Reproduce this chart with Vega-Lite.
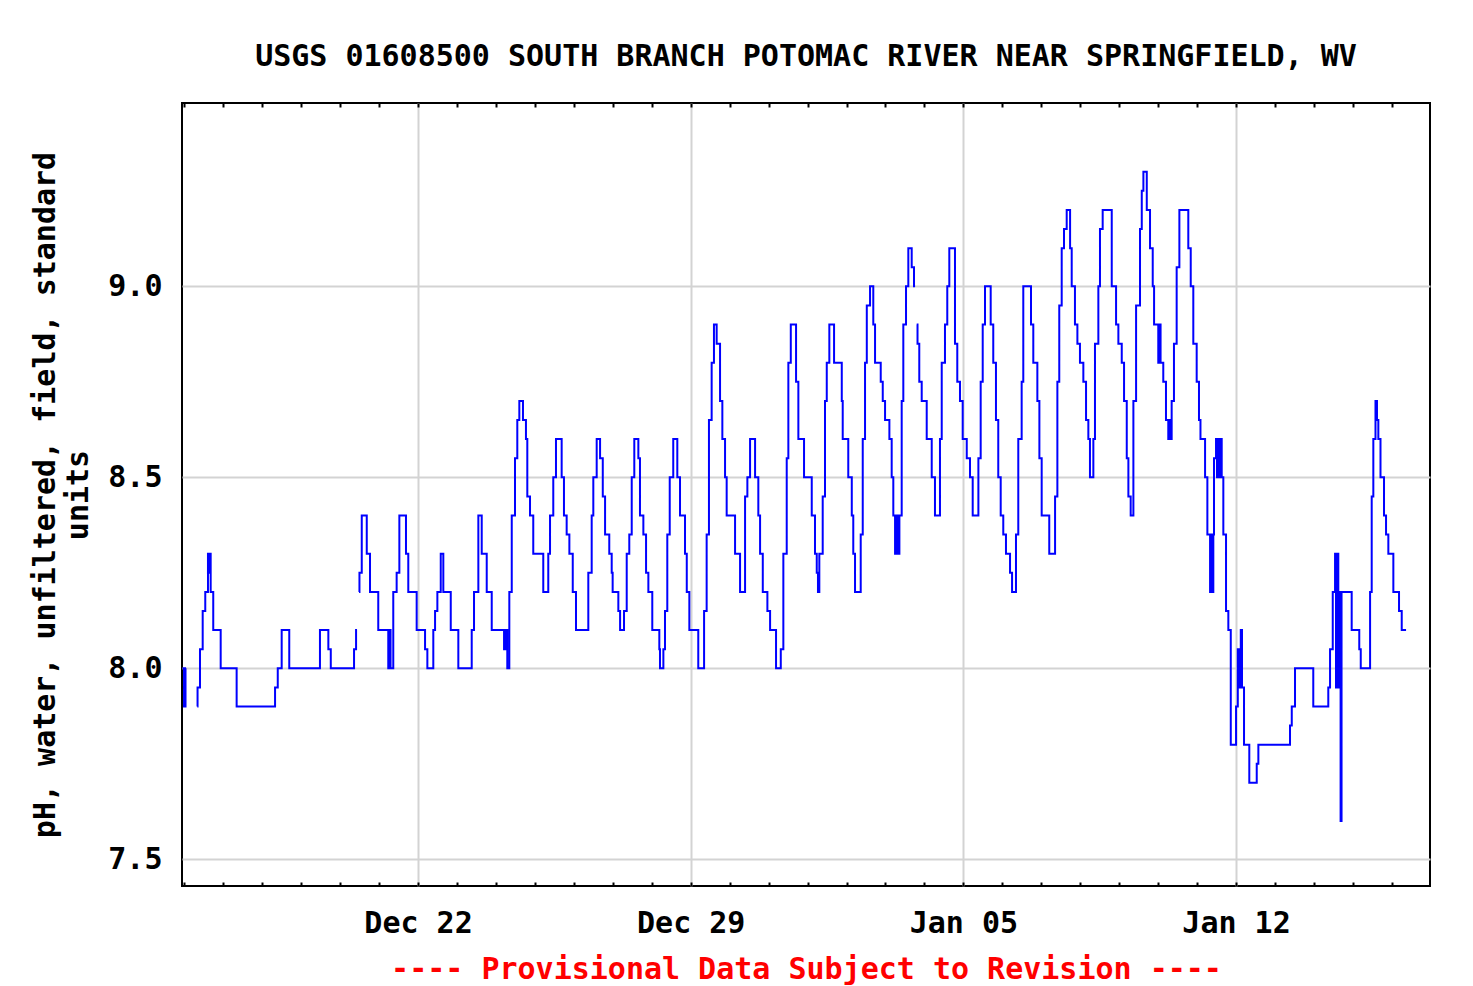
{
  "$schema": "https://vega.github.io/schema/vega-lite/v6.json",
  "width": 1248,
  "height": 783,
  "autosize": {"type": "none"},
  "padding": {"left": 182, "top": 103, "right": 43, "bottom": 100},
  "background": "white",
  "title": {
    "text": "USGS 01608500 SOUTH BRANCH POTOMAC RIVER NEAR SPRINGFIELD, WV",
    "font": "DejaVu Sans Mono", "fontSize": 30, "fontWeight": "bold", "color": "black",
    "anchor": "middle", "frame": "group", "baseline": "alphabetic", "offset": 6
  },
  "config": {
    "view": {"stroke": "black", "strokeWidth": 2},
    "axis": {
      "labelFont": "DejaVu Sans Mono", "labelFontSize": 30, "labelFontWeight": "bold", "labelColor": "black",
      "titleFont": "DejaVu Sans Mono", "titleFontSize": 30, "titleFontWeight": "bold", "titleColor": "black",
      "gridColor": "#d3d3d3", "gridWidth": 2, "gridOpacity": 1, "domain": false, "ticks": false
    }
  },
  "data": {"values": [
    {"t": "2013-12-15T22:55", "v": 8.0}, {"t": "2013-12-15T23:50", "v": 7.9}, {"t": "2013-12-16T00:45", "v": 8.0}, {"t": "2013-12-16T01:05", "v": 8.0}, {"t": "2013-12-16T03:00", "v": null},
    {"t": "2013-12-16T08:00", "v": 7.9}, {"t": "2013-12-16T08:10", "v": 7.95}, {"t": "2013-12-16T09:40", "v": 8.05}, {"t": "2013-12-16T11:20", "v": 8.15}, {"t": "2013-12-16T12:55", "v": 8.2}, {"t": "2013-12-16T14:35", "v": 8.3}, {"t": "2013-12-16T15:15", "v": 8.25}, {"t": "2013-12-16T15:30", "v": 8.3}, {"t": "2013-12-16T16:15", "v": 8.2}, {"t": "2013-12-16T17:50", "v": 8.1}, {"t": "2013-12-16T22:25", "v": 8.0},
    {"t": "2013-12-17T08:15", "v": 7.9}, {"t": "2013-12-18T07:55", "v": 7.95}, {"t": "2013-12-18T09:35", "v": 8.0}, {"t": "2013-12-18T12:00", "v": 8.1}, {"t": "2013-12-18T16:40", "v": 8.0},
    {"t": "2013-12-19T11:35", "v": 8.1}, {"t": "2013-12-19T16:45", "v": 8.05}, {"t": "2013-12-19T18:15", "v": 8.0}, {"t": "2013-12-20T08:35", "v": 8.05}, {"t": "2013-12-20T09:50", "v": 8.1}, {"t": "2013-12-20T10:25", "v": 8.1}, {"t": "2013-12-20T11:00", "v": null},
    {"t": "2013-12-20T11:40", "v": 8.2}, {"t": "2013-12-20T11:55", "v": 8.25}, {"t": "2013-12-20T13:20", "v": 8.4}, {"t": "2013-12-20T16:25", "v": 8.3}, {"t": "2013-12-20T18:25", "v": 8.2}, {"t": "2013-12-20T23:30", "v": 8.1},
    {"t": "2013-12-21T05:40", "v": 8.0}, {"t": "2013-12-21T06:25", "v": 8.1}, {"t": "2013-12-21T07:05", "v": 8.0}, {"t": "2013-12-21T08:45", "v": 8.2}, {"t": "2013-12-21T10:50", "v": 8.25}, {"t": "2013-12-21T12:30", "v": 8.4}, {"t": "2013-12-21T16:35", "v": 8.3}, {"t": "2013-12-21T18:00", "v": 8.2}, {"t": "2013-12-21T23:10", "v": 8.1},
    {"t": "2013-12-22T04:20", "v": 8.05}, {"t": "2013-12-22T05:45", "v": 8.0}, {"t": "2013-12-22T09:25", "v": 8.1}, {"t": "2013-12-22T10:30", "v": 8.15}, {"t": "2013-12-22T11:55", "v": 8.2}, {"t": "2013-12-22T14:00", "v": 8.3}, {"t": "2013-12-22T15:35", "v": 8.2}, {"t": "2013-12-22T20:10", "v": 8.1},
    {"t": "2013-12-23T00:50", "v": 8.0}, {"t": "2013-12-23T09:05", "v": 8.1}, {"t": "2013-12-23T10:30", "v": 8.2}, {"t": "2013-12-23T13:10", "v": 8.4}, {"t": "2013-12-23T15:15", "v": 8.3}, {"t": "2013-12-23T18:20", "v": 8.2}, {"t": "2013-12-23T21:25", "v": 8.1},
    {"t": "2013-12-24T05:00", "v": 8.05}, {"t": "2013-12-24T05:55", "v": 8.1}, {"t": "2013-12-24T07:00", "v": 8.0}, {"t": "2013-12-24T08:15", "v": 8.2}, {"t": "2013-12-24T09:45", "v": 8.4}, {"t": "2013-12-24T11:45", "v": 8.55}, {"t": "2013-12-24T13:10", "v": 8.65}, {"t": "2013-12-24T14:25", "v": 8.7}, {"t": "2013-12-24T16:40", "v": 8.65}, {"t": "2013-12-24T18:30", "v": 8.6}, {"t": "2013-12-24T19:20", "v": 8.45}, {"t": "2013-12-24T21:00", "v": 8.4}, {"t": "2013-12-24T23:00", "v": 8.3},
    {"t": "2013-12-25T05:10", "v": 8.2}, {"t": "2013-12-25T08:15", "v": 8.3}, {"t": "2013-12-25T09:20", "v": 8.4}, {"t": "2013-12-25T11:20", "v": 8.5}, {"t": "2013-12-25T13:00", "v": 8.6}, {"t": "2013-12-25T16:30", "v": 8.5}, {"t": "2013-12-25T17:55", "v": 8.4}, {"t": "2013-12-25T19:35", "v": 8.35}, {"t": "2013-12-25T21:15", "v": 8.3}, {"t": "2013-12-25T23:20", "v": 8.2},
    {"t": "2013-12-26T01:20", "v": 8.1}, {"t": "2013-12-26T08:55", "v": 8.25}, {"t": "2013-12-26T11:00", "v": 8.4}, {"t": "2013-12-26T12:00", "v": 8.5}, {"t": "2013-12-26T14:05", "v": 8.6}, {"t": "2013-12-26T16:10", "v": 8.55}, {"t": "2013-12-26T17:50", "v": 8.45}, {"t": "2013-12-26T19:15", "v": 8.35}, {"t": "2013-12-26T21:50", "v": 8.3}, {"t": "2013-12-26T23:20", "v": 8.25}, {"t": "2013-12-26T23:55", "v": 8.2},
    {"t": "2013-12-27T03:25", "v": 8.15}, {"t": "2013-12-27T04:30", "v": 8.1}, {"t": "2013-12-27T06:55", "v": 8.15}, {"t": "2013-12-27T08:35", "v": 8.3}, {"t": "2013-12-27T10:10", "v": 8.35}, {"t": "2013-12-27T11:40", "v": 8.5}, {"t": "2013-12-27T13:15", "v": 8.6}, {"t": "2013-12-27T15:45", "v": 8.55}, {"t": "2013-12-27T16:45", "v": 8.4}, {"t": "2013-12-27T18:50", "v": 8.35}, {"t": "2013-12-27T20:30", "v": 8.25}, {"t": "2013-12-27T21:55", "v": 8.2},
    {"t": "2013-12-28T00:20", "v": 8.1}, {"t": "2013-12-28T04:40", "v": 8.05}, {"t": "2013-12-28T05:05", "v": 8.0}, {"t": "2013-12-28T07:10", "v": 8.05}, {"t": "2013-12-28T08:10", "v": 8.15}, {"t": "2013-12-28T09:35", "v": 8.35}, {"t": "2013-12-28T11:05", "v": 8.5}, {"t": "2013-12-28T13:15", "v": 8.6}, {"t": "2013-12-28T15:45", "v": 8.5}, {"t": "2013-12-28T17:25", "v": 8.4}, {"t": "2013-12-28T20:30", "v": 8.3}, {"t": "2013-12-28T21:35", "v": 8.2}, {"t": "2013-12-28T23:10", "v": 8.1},
    {"t": "2013-12-29T04:40", "v": 8.0}, {"t": "2013-12-29T08:15", "v": 8.15}, {"t": "2013-12-29T09:50", "v": 8.35}, {"t": "2013-12-29T11:15", "v": 8.65}, {"t": "2013-12-29T12:55", "v": 8.8}, {"t": "2013-12-29T14:20", "v": 8.9}, {"t": "2013-12-29T16:00", "v": 8.85}, {"t": "2013-12-29T18:05", "v": 8.7}, {"t": "2013-12-29T19:30", "v": 8.6}, {"t": "2013-12-29T21:10", "v": 8.5}, {"t": "2013-12-29T22:10", "v": 8.4},
    {"t": "2013-12-30T03:20", "v": 8.3}, {"t": "2013-12-30T06:25", "v": 8.2}, {"t": "2013-12-30T09:30", "v": 8.45}, {"t": "2013-12-30T10:55", "v": 8.5}, {"t": "2013-12-30T12:35", "v": 8.6}, {"t": "2013-12-30T15:40", "v": 8.5}, {"t": "2013-12-30T17:40", "v": 8.4}, {"t": "2013-12-30T18:45", "v": 8.3}, {"t": "2013-12-30T20:25", "v": 8.2}, {"t": "2013-12-30T23:15", "v": 8.15},
    {"t": "2013-12-31T00:55", "v": 8.1}, {"t": "2013-12-31T04:35", "v": 8.0}, {"t": "2013-12-31T07:30", "v": 8.05}, {"t": "2013-12-31T09:05", "v": 8.3}, {"t": "2013-12-31T11:10", "v": 8.55}, {"t": "2013-12-31T12:10", "v": 8.8}, {"t": "2013-12-31T13:40", "v": 8.9}, {"t": "2013-12-31T16:55", "v": 8.75}, {"t": "2013-12-31T18:20", "v": 8.6}, {"t": "2013-12-31T21:50", "v": 8.5},
    {"t": "2014-01-01T02:35", "v": 8.4}, {"t": "2014-01-01T04:35", "v": 8.3}, {"t": "2014-01-01T05:40", "v": 8.25}, {"t": "2014-01-01T06:25", "v": 8.2}, {"t": "2014-01-01T07:15", "v": 8.3}, {"t": "2014-01-01T09:20", "v": 8.45}, {"t": "2014-01-01T10:45", "v": 8.7}, {"t": "2014-01-01T11:50", "v": 8.8}, {"t": "2014-01-01T13:25", "v": 8.9}, {"t": "2014-01-01T16:20", "v": 8.8}, {"t": "2014-01-01T21:05", "v": 8.7}, {"t": "2014-01-01T21:40", "v": 8.6},
    {"t": "2014-01-02T01:05", "v": 8.5}, {"t": "2014-01-02T03:15", "v": 8.4}, {"t": "2014-01-02T04:10", "v": 8.3}, {"t": "2014-01-02T05:15", "v": 8.2}, {"t": "2014-01-02T08:45", "v": 8.35}, {"t": "2014-01-02T10:00", "v": 8.6}, {"t": "2014-01-02T11:25", "v": 8.8}, {"t": "2014-01-02T12:30", "v": 8.95}, {"t": "2014-01-02T14:30", "v": 9.0}, {"t": "2014-01-02T16:30", "v": 8.9}, {"t": "2014-01-02T17:35", "v": 8.8}, {"t": "2014-01-02T21:05", "v": 8.75}, {"t": "2014-01-02T22:20", "v": 8.7}, {"t": "2014-01-02T23:45", "v": 8.65},
    {"t": "2014-01-03T02:25", "v": 8.6}, {"t": "2014-01-03T03:50", "v": 8.5}, {"t": "2014-01-03T04:50", "v": 8.4}, {"t": "2014-01-03T05:55", "v": 8.3}, {"t": "2014-01-03T06:50", "v": 8.4}, {"t": "2014-01-03T07:25", "v": 8.3}, {"t": "2014-01-03T08:35", "v": 8.4}, {"t": "2014-01-03T10:00", "v": 8.7}, {"t": "2014-01-03T11:00", "v": 8.9}, {"t": "2014-01-03T12:40", "v": 9.0}, {"t": "2014-01-03T14:05", "v": 9.1}, {"t": "2014-01-03T16:10", "v": 9.05}, {"t": "2014-01-03T17:35", "v": 9.0}, {"t": "2014-01-03T18:15", "v": 9.0}, {"t": "2014-01-03T18:40", "v": null},
    {"t": "2014-01-03T19:15", "v": 8.9}, {"t": "2014-01-03T19:45", "v": 8.85}, {"t": "2014-01-03T20:50", "v": 8.75}, {"t": "2014-01-03T22:20", "v": 8.7},
    {"t": "2014-01-04T01:25", "v": 8.6}, {"t": "2014-01-04T04:30", "v": 8.5}, {"t": "2014-01-04T06:30", "v": 8.4}, {"t": "2014-01-04T09:35", "v": 8.6}, {"t": "2014-01-04T10:40", "v": 8.8}, {"t": "2014-01-04T12:40", "v": 8.9}, {"t": "2014-01-04T14:05", "v": 9.0}, {"t": "2014-01-04T15:20", "v": 9.1}, {"t": "2014-01-04T18:50", "v": 8.85}, {"t": "2014-01-04T20:15", "v": 8.75}, {"t": "2014-01-04T21:55", "v": 8.7}, {"t": "2014-01-04T23:35", "v": 8.6},
    {"t": "2014-01-05T02:05", "v": 8.55}, {"t": "2014-01-05T04:05", "v": 8.5}, {"t": "2014-01-05T05:45", "v": 8.4}, {"t": "2014-01-05T09:15", "v": 8.55}, {"t": "2014-01-05T10:40", "v": 8.75}, {"t": "2014-01-05T11:55", "v": 8.9}, {"t": "2014-01-05T13:20", "v": 9.0}, {"t": "2014-01-05T16:50", "v": 8.9}, {"t": "2014-01-05T18:25", "v": 8.8}, {"t": "2014-01-05T20:05", "v": 8.65}, {"t": "2014-01-05T21:30", "v": 8.5}, {"t": "2014-01-05T23:00", "v": 8.4},
    {"t": "2014-01-06T00:35", "v": 8.35}, {"t": "2014-01-06T02:15", "v": 8.3}, {"t": "2014-01-06T04:45", "v": 8.25}, {"t": "2014-01-06T06:00", "v": 8.2}, {"t": "2014-01-06T08:25", "v": 8.35}, {"t": "2014-01-06T09:50", "v": 8.6}, {"t": "2014-01-06T11:55", "v": 8.75}, {"t": "2014-01-06T12:55", "v": 9.0}, {"t": "2014-01-06T17:40", "v": 8.9}, {"t": "2014-01-06T19:05", "v": 8.8}, {"t": "2014-01-06T21:35", "v": 8.7}, {"t": "2014-01-06T22:50", "v": 8.55},
    {"t": "2014-01-07T00:15", "v": 8.4}, {"t": "2014-01-07T04:55", "v": 8.3}, {"t": "2014-01-07T08:30", "v": 8.45}, {"t": "2014-01-07T09:55", "v": 8.75}, {"t": "2014-01-07T11:05", "v": 8.95}, {"t": "2014-01-07T12:35", "v": 9.1}, {"t": "2014-01-07T14:00", "v": 9.15}, {"t": "2014-01-07T15:40", "v": 9.2}, {"t": "2014-01-07T17:45", "v": 9.1}, {"t": "2014-01-07T18:45", "v": 9.0}, {"t": "2014-01-07T20:45", "v": 8.9}, {"t": "2014-01-07T22:15", "v": 8.85}, {"t": "2014-01-07T23:50", "v": 8.8},
    {"t": "2014-01-08T01:55", "v": 8.75}, {"t": "2014-01-08T03:35", "v": 8.65}, {"t": "2014-01-08T05:00", "v": 8.6}, {"t": "2014-01-08T06:00", "v": 8.5}, {"t": "2014-01-08T08:05", "v": 8.6}, {"t": "2014-01-08T09:05", "v": 8.85}, {"t": "2014-01-08T11:10", "v": 9.0}, {"t": "2014-01-08T12:10", "v": 9.15}, {"t": "2014-01-08T13:50", "v": 9.2}, {"t": "2014-01-08T19:25", "v": 9.0}, {"t": "2014-01-08T22:05", "v": 8.9}, {"t": "2014-01-08T23:30", "v": 8.85},
    {"t": "2014-01-09T01:35", "v": 8.8}, {"t": "2014-01-09T03:00", "v": 8.7}, {"t": "2014-01-09T04:40", "v": 8.55}, {"t": "2014-01-09T05:40", "v": 8.45}, {"t": "2014-01-09T07:05", "v": 8.4}, {"t": "2014-01-09T08:45", "v": 8.7}, {"t": "2014-01-09T10:25", "v": 8.95}, {"t": "2014-01-09T12:50", "v": 9.15}, {"t": "2014-01-09T13:55", "v": 9.25}, {"t": "2014-01-09T14:55", "v": 9.3}, {"t": "2014-01-09T17:00", "v": 9.2}, {"t": "2014-01-09T19:00", "v": 9.1}, {"t": "2014-01-09T20:40", "v": 9.0}, {"t": "2014-01-09T21:30", "v": 8.9},
    {"t": "2014-01-10T00:05", "v": 8.8}, {"t": "2014-01-10T00:50", "v": 8.9}, {"t": "2014-01-10T01:30", "v": 8.8}, {"t": "2014-01-10T03:10", "v": 8.75}, {"t": "2014-01-10T04:50", "v": 8.65}, {"t": "2014-01-10T06:15", "v": 8.6}, {"t": "2014-01-10T07:00", "v": 8.65}, {"t": "2014-01-10T07:40", "v": 8.6}, {"t": "2014-01-10T08:20", "v": 8.7}, {"t": "2014-01-10T09:45", "v": 8.85}, {"t": "2014-01-10T11:25", "v": 9.05}, {"t": "2014-01-10T13:05", "v": 9.2}, {"t": "2014-01-10T18:35", "v": 9.1}, {"t": "2014-01-10T20:05", "v": 9.0}, {"t": "2014-01-10T21:40", "v": 8.85}, {"t": "2014-01-10T23:45", "v": 8.75},
    {"t": "2014-01-11T01:10", "v": 8.65}, {"t": "2014-01-11T02:05", "v": 8.6}, {"t": "2014-01-11T04:55", "v": 8.5}, {"t": "2014-01-11T06:20", "v": 8.35}, {"t": "2014-01-11T08:00", "v": 8.2}, {"t": "2014-01-11T08:35", "v": 8.35}, {"t": "2014-01-11T09:10", "v": 8.2}, {"t": "2014-01-11T10:00", "v": 8.35}, {"t": "2014-01-11T10:25", "v": 8.55}, {"t": "2014-01-11T11:40", "v": 8.6}, {"t": "2014-01-11T12:15", "v": 8.5}, {"t": "2014-01-11T12:55", "v": 8.6}, {"t": "2014-01-11T13:30", "v": 8.5}, {"t": "2014-01-11T14:10", "v": 8.6}, {"t": "2014-01-11T15:10", "v": 8.5}, {"t": "2014-01-11T16:10", "v": 8.35}, {"t": "2014-01-11T17:50", "v": 8.15}, {"t": "2014-01-11T19:15", "v": 8.1}, {"t": "2014-01-11T20:45", "v": 7.8},
    {"t": "2014-01-12T00:00", "v": 7.9}, {"t": "2014-01-12T01:05", "v": 8.05}, {"t": "2014-01-12T01:50", "v": 7.95}, {"t": "2014-01-12T02:55", "v": 8.1}, {"t": "2014-01-12T03:40", "v": 7.95}, {"t": "2014-01-12T04:55", "v": 7.8}, {"t": "2014-01-12T08:10", "v": 7.7}, {"t": "2014-01-12T12:45", "v": 7.75}, {"t": "2014-01-12T13:45", "v": 7.8},
    {"t": "2014-01-13T09:15", "v": 7.85}, {"t": "2014-01-13T10:20", "v": 7.9}, {"t": "2014-01-13T12:20", "v": 8.0}, {"t": "2014-01-13T23:35", "v": 7.9},
    {"t": "2014-01-14T08:50", "v": 7.95}, {"t": "2014-01-14T09:55", "v": 8.05}, {"t": "2014-01-14T11:35", "v": 8.2}, {"t": "2014-01-14T13:00", "v": 8.3}, {"t": "2014-01-14T13:35", "v": 7.95}, {"t": "2014-01-14T14:15", "v": 8.3}, {"t": "2014-01-14T15:00", "v": 7.95}, {"t": "2014-01-14T15:45", "v": 8.2}, {"t": "2014-01-14T16:25", "v": 7.6}, {"t": "2014-01-14T17:00", "v": 8.2}, {"t": "2014-01-14T23:15", "v": 8.1},
    {"t": "2014-01-15T03:55", "v": 8.05}, {"t": "2014-01-15T04:50", "v": 8.0}, {"t": "2014-01-15T10:35", "v": 8.2}, {"t": "2014-01-15T11:35", "v": 8.45}, {"t": "2014-01-15T12:35", "v": 8.6}, {"t": "2014-01-15T13:55", "v": 8.7}, {"t": "2014-01-15T14:50", "v": 8.65}, {"t": "2014-01-15T15:40", "v": 8.6}, {"t": "2014-01-15T17:00", "v": 8.5}, {"t": "2014-01-15T19:10", "v": 8.4}, {"t": "2014-01-15T20:25", "v": 8.35}, {"t": "2014-01-15T21:50", "v": 8.3},
    {"t": "2014-01-16T00:55", "v": 8.2}, {"t": "2014-01-16T04:25", "v": 8.15}, {"t": "2014-01-16T06:05", "v": 8.1}, {"t": "2014-01-16T08:45", "v": 8.1}
  ]},
  "encoding": {
    "y": {
      "field": "v", "type": "quantitative",
      "scale": {"domain": [7.43, 9.48], "nice": false, "zero": false},
      "axis": {
        "values": [7.5, 8.0, 8.5, 9.0], "format": ".1f", "grid": true, "labelPadding": 20,
        "title": ["pH, water, unfiltered, field, standard", "units"],
        "titlePadding": 14, "titleLineHeight": 33
      }
    }
  },
  "layer": [
    {
      "mark": {"type": "line", "interpolate": "step-after", "color": "#0000ff", "strokeWidth": 2, "invalid": "break-paths-filter-domains"},
      "encoding": {
        "x": {
          "field": "t", "type": "temporal",
          "scale": {"domain": [{"year": 2013, "month": 12, "date": 15, "hours": 22, "minutes": 35}, {"year": 2014, "month": 1, "date": 16, "hours": 23, "minutes": 30}]},
          "axis": {
            "values": [{"year": 2013, "month": 12, "date": 22}, {"year": 2013, "month": 12, "date": 29}, {"year": 2014, "month": 1, "date": 5}, {"year": 2014, "month": 1, "date": 12}],
            "format": "%b %d", "grid": true, "labelPadding": 22, "labelFlush": false, "labelOverlap": false,
            "title": "---- Provisional Data Subject to Revision ----", "titleColor": "#ff0000", "titlePadding": 16
          }
        }
      }
    },
    {
      "mark": {"type": "line", "opacity": 0, "invalid": "break-paths-filter-domains"},
      "encoding": {
        "x": {
          "field": "t", "type": "temporal",
          "scale": {"domain": [{"year": 2013, "month": 12, "date": 15, "hours": 22, "minutes": 35}, {"year": 2014, "month": 1, "date": 16, "hours": 23, "minutes": 30}]},
          "axis": {"orient": "bottom", "tickCount": {"interval": "day", "step": 1}, "labels": false, "grid": false, "domain": false, "ticks": true, "tickSize": -4, "tickWidth": 2, "tickColor": "black", "title": null}
        }
      }
    },
    {
      "mark": {"type": "line", "opacity": 0, "invalid": "break-paths-filter-domains"},
      "encoding": {
        "x": {
          "field": "t", "type": "temporal",
          "scale": {"domain": [{"year": 2013, "month": 12, "date": 15, "hours": 22, "minutes": 35}, {"year": 2014, "month": 1, "date": 16, "hours": 23, "minutes": 30}]},
          "axis": {"orient": "top", "tickCount": {"interval": "day", "step": 1}, "labels": false, "grid": false, "domain": false, "ticks": true, "tickSize": -4, "tickWidth": 2, "tickColor": "black", "title": null}
        }
      }
    }
  ],
  "resolve": {"axis": {"x": "independent"}}
}
